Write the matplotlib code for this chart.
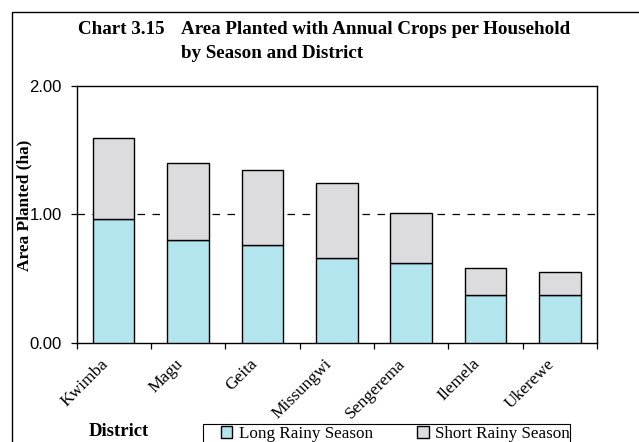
"""Chart 3.15 — area planted with annual crops per household, by season and district."""

import matplotlib
matplotlib.use("Agg")
import matplotlib.pyplot as plt
from matplotlib.patches import Rectangle
from matplotlib.ticker import FixedLocator, NullFormatter
import numpy as np

W, H = 639, 442

districts = ["Kwimba", "Magu", "Geita", "Missungwi", "Sengerema", "Ilemela", "Ukerewe"]
long_rainy = [0.96, 0.80, 0.76, 0.66, 0.62, 0.37, 0.37]
short_rainy = [0.63, 0.60, 0.585, 0.585, 0.39, 0.21, 0.18]

SERIF = ["Liberation Serif", "DejaVu Serif"]
SANS = ["Liberation Sans", "DejaVu Sans"]
C_LONG = "#b3e5ee"
C_SHORT = "#dcdcde"


def fx(px):
    return px / W


def fy(py):
    return 1 - py / H


fig = plt.figure(figsize=(W / 100, H / 100), dpi=100)
ax = fig.add_axes([fx(76.5), fy(342.7), fx(597 - 76.5), (342.7 - 85.5) / H])

x = np.arange(len(districts)) + 0.5
ax.bar(x, long_rainy, width=0.56, color=C_LONG, edgecolor="black", lw=1.0,
       label="Long Rainy Season", zorder=3)
ax.bar(x, short_rainy, width=0.56, bottom=long_rainy, color=C_SHORT,
       edgecolor="black", lw=1.0, label="Short Rainy Season", zorder=3)

ax.set_xlim(0, len(districts))
ax.set_ylim(0, 2)
ax.set_yticks([0, 1, 2])
ax.set_yticklabels(["0.00", "1.00", "2.00"], family=SANS, fontsize=12)
ax.axhline(1.0, color="black", lw=0.9, ls=(0, (6, 6)), zorder=1)

# ticks at category boundaries; rotated labels sit a little left of each bar
ax.xaxis.set_major_locator(FixedLocator(np.arange(len(districts) + 1)))
ax.xaxis.set_major_formatter(NullFormatter())
ax.xaxis.set_minor_locator(FixedLocator(x - 0.18))
ax.set_xticklabels(districts, minor=True, rotation=45, ha="right", va="top",
                   rotation_mode="anchor", family=SERIF, fontsize=12.5)
ax.tick_params(axis="x", which="major", length=4, width=0.9, direction="out")
ax.tick_params(axis="x", which="minor", length=0, pad=9.5)
ax.tick_params(axis="y", length=4.5, width=0.9, pad=6)
for s in ax.spines.values():
    s.set_linewidth(1.0)

title_kw = dict(family=SERIF, weight="bold", fontsize=13.7, ha="left", va="center")
fig.text(fx(78), fy(30), "Chart 3.15", **title_kw)
fig.text(fx(181), fy(30), "Area Planted with Annual Crops per Household", **title_kw)
fig.text(fx(181), fy(53), "by Season and District", **title_kw)
fig.text(fx(24), fy(205), "Area Planted (ha)", family=SERIF, weight="bold",
         fontsize=12.4, rotation=90, ha="center", va="center")
fig.text(fx(119), fy(432), "District", family=SERIF, weight="bold",
         fontsize=13.5, ha="center", va="center")

# legend box runs off the bottom edge like the source
fig.patches.append(Rectangle((fx(203), fy(460)), fx(570 - 203), (460 - 424) / H,
                             transform=fig.transFigure, fill=False,
                             edgecolor="black", lw=0.8))
fig.legend(loc="upper left", bbox_to_anchor=(fx(221), fy(426)), ncol=2,
           frameon=False, borderpad=0, handlelength=0.65, handleheight=0.65,
           handletextpad=0.4, columnspacing=2.6,
           prop={"family": SERIF, "size": 12.3}, borderaxespad=0)

# outer chart frame (top/left visible, runs off the right and bottom)
fig.patches.append(Rectangle((fx(11.7), -0.1), 1.2, fy(12.3) + 0.1,
                             transform=fig.transFigure, fill=False,
                             edgecolor="black", lw=1.0))

fig.savefig("out.png", dpi=100)
